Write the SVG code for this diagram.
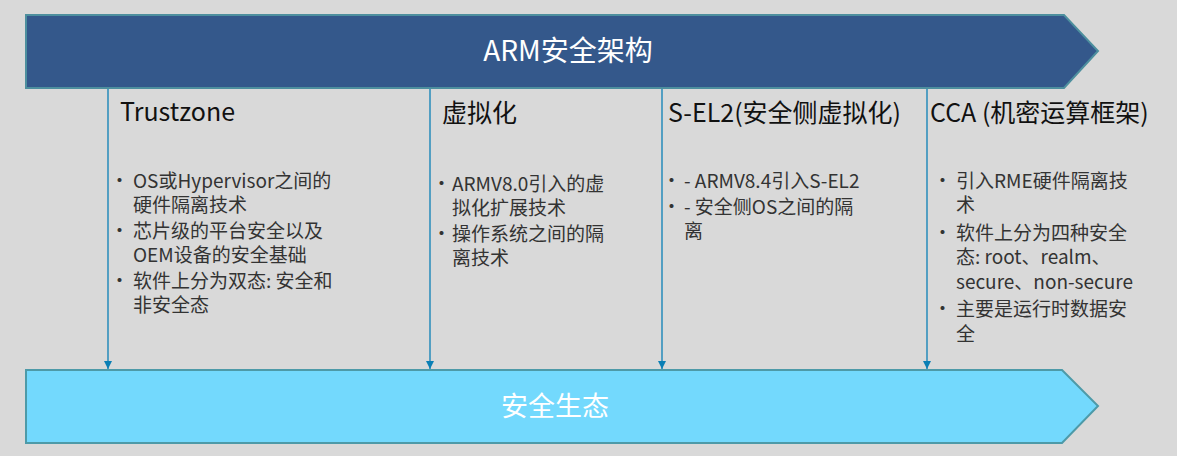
<svg xmlns="http://www.w3.org/2000/svg" width="1177" height="456" viewBox="0 0 1177 456">
<style>
text{font-family:"Noto Sans CJK SC","Liberation Sans",sans-serif;}
.h{font-size:25px;fill:#111}
.b{font-size:19px;fill:#333}
.c{stroke:#0a7fb5;stroke-width:1.3;fill:none}
</style>
<defs><marker id="a" markerWidth="10" markerHeight="10" refX="9" refY="5" orient="auto" markerUnits="userSpaceOnUse"><path d="M1,1 L9,5 L1,9 z" fill="#0a7fb5"/></marker></defs>
<rect width="1177" height="456" fill="#d9d9d9"/>
<g id="top"><path d="M26,15 H1064 L1098,51 L1064,88 H26 Z" fill="#34588b" stroke="#4d8f9e" stroke-width="2"/>
<text x="568" y="61" font-size="28" fill="#fff" text-anchor="middle">ARM安全架构</text></g>
<g id="bottom"><path d="M26,370 H1062 L1098,406 L1062,443 H26 Z" fill="#73d9fd" stroke="#4d9aa8" stroke-width="2"/>
<text x="555" y="416" font-size="27" fill="#fff" text-anchor="middle">安全生态</text></g>
<g id="connectors">
<line class="c" x1="108" y1="89" x2="108" y2="369" marker-end="url(#a)"/>
<line class="c" x1="430" y1="89" x2="430" y2="369" marker-end="url(#a)"/>
<line class="c" x1="662" y1="89" x2="662" y2="369" marker-end="url(#a)"/>
<line class="c" x1="927" y1="89" x2="927" y2="369" marker-end="url(#a)"/>
</g>
<g id="n1"><text class="h" x="120" y="121">Trustzone</text>
<text class="b"><tspan x="110" y="188">•</tspan><tspan x="133" y="188">OS或Hypervisor之间的</tspan><tspan x="133" y="212">硬件隔离技术</tspan><tspan x="110" y="238">•</tspan><tspan x="133" y="238">芯片级的平台安全以及</tspan><tspan x="133" y="262">OEM设备的安全基础</tspan><tspan x="110" y="288">•</tspan><tspan x="133" y="288">软件上分为双态: 安全和</tspan><tspan x="133" y="312">非安全态</tspan></text></g>
<g id="n2"><text class="h" x="442" y="122">虚拟化</text>
<text class="b"><tspan x="432" y="191">•</tspan><tspan x="452" y="191">ARMV8.0引入的虚</tspan><tspan x="452" y="215">拟化扩展技术</tspan><tspan x="432" y="241">•</tspan><tspan x="452" y="241">操作系统之间的隔</tspan><tspan x="452" y="265">离技术</tspan></text></g>
<g id="n3"><text class="h" x="668" y="122">S-EL2(安全侧虚拟化)</text>
<text class="b"><tspan x="662" y="188">•</tspan><tspan x="684" y="188">- ARMV8.4引入S-EL2</tspan><tspan x="662" y="214">•</tspan><tspan x="684" y="214">- 安全侧OS之间的隔</tspan><tspan x="684" y="238">离</tspan></text></g>
<g id="n4"><text class="h" x="930" y="122">CCA (机密运算框架)</text>
<text class="b"><tspan x="933" y="188">•</tspan><tspan x="956" y="188">引入RME硬件隔离技</tspan><tspan x="956" y="212">术</tspan><tspan x="933" y="240">•</tspan><tspan x="956" y="240">软件上分为四种安全</tspan><tspan x="956" y="264">态: root、realm、</tspan><tspan x="956" y="289">secure、non-secure</tspan><tspan x="933" y="316">•</tspan><tspan x="956" y="316">主要是运行时数据安</tspan><tspan x="956" y="341">全</tspan></text></g>
</svg>
